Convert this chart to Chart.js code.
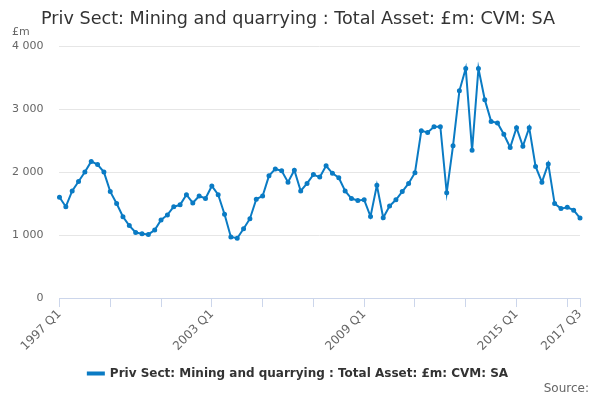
<!DOCTYPE html>
<html>
<head>
<meta charset="utf-8">
<script src="https://cdn.jsdelivr.net/npm/chart.js@4"></script>
<style>
  html, body { margin: 0; padding: 0; background: #fff; }
  #wrap { width: 600px; height: 400px; position: relative; }
</style>
</head>
<body>
<div id="wrap"><canvas id="chart"></canvas></div>
<script>
// quarters 1997 Q1 .. 2017 Q3
const years = [];
for (let y = 1997; y <= 2017; y++) years.push(y);
const quarters = ['Q1', 'Q2', 'Q3', 'Q4'];
const labels = [];
years.forEach(y => quarters.forEach(q => {
  if (!(y === 2017 && q === 'Q4')) labels.push(y + ' ' + q);
}));

const shownLabels = ['1997 Q1', '2003 Q1', '2009 Q1', '2015 Q1', '2017 Q3'];
const yTicks = [0, 1000, 2000, 3000, 4000];

// Total Asset, £m
const values = [
  1600, 1450, 1700, 1850, 2000, 2170, 2120, 2000,
  1690, 1500, 1290, 1150, 1040, 1020, 1010, 1080,
  1240, 1320, 1450, 1480, 1640, 1510, 1620, 1580,
  1780, 1640, 1330, 970, 950, 1100, 1260, 1570,
  1620, 1940, 2050, 2020, 1840, 2030, 1700, 1820,
  1960, 1920, 2100, 1980, 1910, 1700, 1580, 1550,
  1560, 1295, 1790, 1275, 1460, 1560, 1690, 1820,
  1990, 2655, 2630, 2720, 2720, 1670, 2420, 3290,
  3645, 2345, 3645, 3150, 2805, 2780, 2600, 2390,
  2705, 2410, 2705, 2090, 1840, 2130, 1500, 1420,
  1440, 1395, 1270
];

const seriesName = 'Priv Sect: Mining and quarrying : Total Asset: £m: CVM: SA';
const lineColor = '#0a7bc4';

// unit label above the y axis, source note bottom right
const extraText = {
  id: 'extraText',
  afterDraw(chart) {
    const ctx = chart.ctx;
    ctx.save();
    ctx.font = '11px "DejaVu Sans"';
    ctx.fillStyle = '#666';
    ctx.textAlign = 'left';
    ctx.textBaseline = 'middle';
    ctx.fillText('£m', 12, 32);
    ctx.font = '12px "DejaVu Sans"';
    ctx.textAlign = 'right';
    ctx.fillText('Source:', 589, 389);
    ctx.restore();
  }
};

new Chart(document.getElementById('chart'), {
  type: 'line',
  data: {
    labels: labels,
    datasets: [{
      label: seriesName,
      data: values,
      borderColor: lineColor,
      backgroundColor: lineColor,
      borderWidth: 2,
      pointRadius: 1.5,
      pointHoverRadius: 3,
      tension: 0,
      fill: false
    }]
  },
  options: {
    responsive: true,
    maintainAspectRatio: false,
    animation: false,
    layout: { padding: { left: -4, right: 0, top: 0, bottom: 10.4 } },
    scales: {
      x: {
        offset: false,
        afterFit: scale => {
          scale.paddingRight = 20;
        },
        grid: {
          drawOnChartArea: false,
          drawTicks: true,
          tickLength: 9,
          tickColor: ctx => (ctx.index % 8 === 0 || ctx.index === labels.length - 1) ? '#ccd6eb' : 'rgba(0,0,0,0)'
        },
        border: { color: '#ccd6eb', width: 1 },
        ticks: {
          autoSkip: false,
          minRotation: 45,
          maxRotation: 45,
          padding: 0,
          color: '#666',
          font: { family: 'DejaVu Sans', size: 12 },
          callback: function(v, i) {
            const l = labels[i];
            return shownLabels.includes(l) ? l : '';
          }
        }
      },
      y: {
        min: 0,
        max: 4000,
        afterBuildTicks: axis => { axis.ticks = yTicks.map(v => ({ value: v })); },
        grid: { color: '#e6e6e6', drawTicks: false },
        border: { display: false },
        ticks: {
          padding: 16,
          color: '#666',
          font: { family: 'DejaVu Sans', size: 11 },
          callback: v => String(v).replace(/\B(?=(\d{3})+(?!\d))/g, ' ')
        }
      }
    },
    plugins: {
      title: {
        display: true,
        text: seriesName,
        color: '#333',
        font: { family: 'DejaVu Sans', size: 17.6, weight: 'normal' },
        padding: { top: 9, bottom: 16 }
      },
      legend: {
        position: 'bottom',
        labels: {
          color: '#333',
          font: { family: 'DejaVu Sans', size: 12, weight: 'bold' },
          boxWidth: 16,
          boxHeight: 2,
          padding: 14
        }
      },
      tooltip: { enabled: false }
    }
  },
  plugins: [extraText]
});
</script>
</body>
</html>
